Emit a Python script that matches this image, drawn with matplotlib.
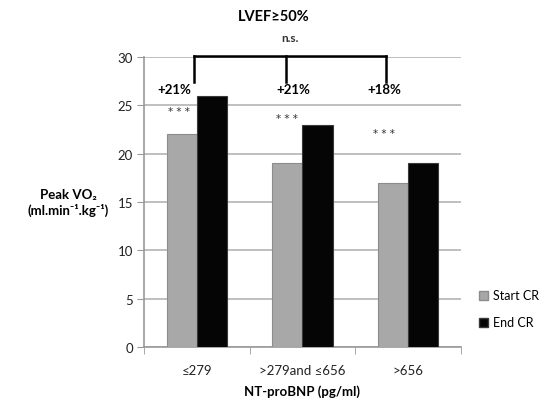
import numpy as np
import matplotlib
matplotlib.use("Agg")
from matplotlib import pyplot as plt
from matplotlib.patches import Patch

plt.rcParams['font.family'] = ['Lato', 'DejaVu Sans']

categories = ['≤279', '>279and ≤656', '>656']
start_cr = [22, 19, 17]
end_cr = [26, 23, 19]
change_labels = ['+21%', '+21%', '+18%']
change_x = [-0.21, 0.91, 1.77]
change_y = [26.7, 26.7, 26.7]
star_x = [-0.17, 0.855, 1.77]
star_y = [24.4, 23.7, 22.1]
bracket_x = [-0.03, 0.846, 1.79]
bracket_top, bracket_bottom = 30.1, 27.4

fig = plt.figure(figsize=(5.53, 4.06), dpi=100)
ax = fig.add_axes([0.2604, 0.1429, 0.5732, 0.7143])

x = np.arange(len(categories))
w = 0.285
ax.bar(x - w / 2, start_cr, w, color='#a8a8a8', edgecolor='#8c8c8c', lw=0.8, zorder=3)
ax.bar(x + w / 2, end_cr, w, color='#050505', edgecolor='#3a3a3a', lw=0.8, zorder=3)

ax.set_xlim(-0.5, 2.5)
ax.set_ylim(0, 30)
ax.set_yticks(range(0, 31, 5))
ax.yaxis.grid(True, color='#b4b4b4', lw=1.2, zorder=0)
ax.set_xticks(x)
ax.set_xticklabels(categories, fontsize=9.5, color='#222222')
ax.set_xticks([-0.5, 0.5, 1.5, 2.5], minor=True)
ax.tick_params(axis='x', which='major', length=0, pad=12)
ax.tick_params(axis='x', which='minor', length=5, color='#999999', direction='out')
ax.tick_params(axis='y', length=5, color='#999999', labelsize=9.5, labelcolor='#222222', pad=3)
for s in ['top', 'right']:
    ax.spines[s].set_visible(False)
for s in ['left', 'bottom']:
    ax.spines[s].set_color('#999999')
    ax.spines[s].set_linewidth(1.2)

ax.set_xlabel('NT-proBNP (pg/ml)', fontsize=9.5, fontweight='bold', labelpad=6)

# significance bracket over the three groups
ax.plot([bracket_x[0], bracket_x[-1]], [bracket_top, bracket_top], color='black', lw=1.8,
        clip_on=False, zorder=5)
for bx in bracket_x:
    ax.plot([bx, bx], [bracket_bottom, bracket_top], color='black', lw=1.8, clip_on=False, zorder=5)

for lx, ly, t in zip(change_x, change_y, change_labels):
    ax.text(lx, ly, t, ha='center', va='center', fontsize=9.5, fontweight='bold', zorder=6)
for sx, sy in zip(star_x, star_y):
    ax.text(sx, sy, '* * *', ha='center', va='center', fontsize=7.5, color='#333333',
            family='DejaVu Sans', zorder=6)

fig.text(274 / 553, 1 - 17 / 406, 'LVEF≥50%', ha='center', va='center', fontsize=10.5,
         fontweight='bold')
fig.text(290 / 553, 1 - 38 / 406, 'n.s.', ha='center', va='center', fontsize=8.5,
         fontweight='bold', color='#333333')
fig.text(68 / 553, 1 - 203 / 406, 'Peak VO₂\n(ml.min⁻¹.kg⁻¹)', ha='center', va='center',
         fontsize=9.5, fontweight='bold', linespacing=1.3)

handles = [Patch(facecolor='#a8a8a8', edgecolor='#8c8c8c'),
           Patch(facecolor='#050505', edgecolor='#3a3a3a')]
fig.legend(handles, ['Start CR', 'End CR'], loc='center left',
           bbox_to_anchor=(468 / 553, 1 - 310 / 406), frameon=False, fontsize=9,
           handlelength=0.7, handleheight=0.7, handletextpad=0.4, labelspacing=1.2)

fig.savefig('out.png', dpi=100)
